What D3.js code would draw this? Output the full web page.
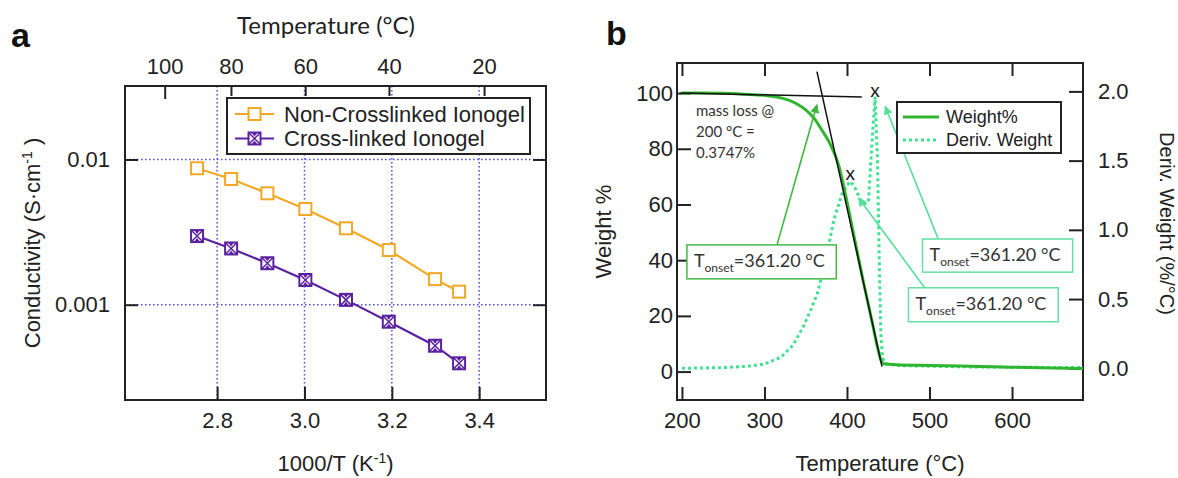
<!DOCTYPE html>
<html><head><meta charset="utf-8">
<script src="https://cdn.jsdelivr.net/npm/d3@7"></script>
<style>body{margin:0;background:#fff}svg{display:block}</style>
</head><body>
<svg id="c" width="1178" height="478"></svg>
<script>
// ---------- Panel a data ----------
const invT = [2.754, 2.832, 2.915, 3.002, 3.095, 3.193, 3.299, 3.354];      // 1000/T (K^-1)
const nonCrosslinked = [0.00870, 0.00734, 0.00585, 0.00456, 0.00336, 0.00238, 0.00150, 0.00123];
const crosslinked    = [0.00297, 0.00244, 0.00193, 0.00148, 0.00108, 0.000764, 0.000522, 0.000395];
const seriesNamesA = ["Non-Crosslinked Ionogel", "Cross-linked Ionogel"];
const xTicksA = [2.8, 3.0, 3.2, 3.4];
const yTicksA = [0.01, 0.001];
const topTempTicks = [100, 80, 60, 40, 20];   // °C

// ---------- Panel b data ----------
const tgaTemp = [200, 225, 250, 275, 300, 315, 330, 340, 350, 360, 370, 380, 390, 400, 410, 420, 430, 438, 442, 446, 460, 500, 550, 600, 650, 686];
const weightPct = [100, 100, 99.9, 99.6, 99.2, 98.6, 97.4, 96, 94, 91, 86.5, 81.5, 74, 61, 46.5, 32, 18.5, 7.5, 3.5, 2.7, 2.5, 2.2, 1.9, 1.6, 1.3, 1.1];
const dtgTemp = [200, 250, 280, 300, 320, 335, 347, 356, 364, 370, 376, 384, 394, 400, 404, 410, 416, 422, 426, 430, 434, 437, 439, 441, 443, 446, 460, 500, 550, 600, 650, 686];
const derivWeight = [0.0, 0.005, 0.015, 0.03, 0.08, 0.17, 0.30, 0.42, 0.54, 0.68, 0.83, 1.07, 1.26, 1.32, 1.35, 1.30, 1.22, 1.19, 1.20, 1.6, 1.96, 1.5, 0.8, 0.25, 0.08, 0.035, 0.02, 0.015, 0.01, 0.008, 0.006, 0.005];
const seriesNamesB = ["Weight%", "Deriv. Weight"];
const xTicksB = [200, 300, 400, 500, 600];
const yTicksB = [0, 20, 40, 60, 80, 100];
const y2TicksB = [0, 0.5, 1.0, 1.5, 2.0];
// annotations (data space)
const baselineT = [198, 418], baselineW = [100, 98.6];
const tangentT = [363.6, 442.4], tangentW = [107.7, 1.8];
const peakT = [404, 434], peakD = [1.40, 2.0];
const massLossText = ["mass loss @", "200 °C =", "0.3747%"];
const onsetValue = "=361.20 °C";
const boxT0 = [206, 491.5, 474.5], boxT1 = [387, 673.5, 656];
const boxW0 = [45.5, 47.6, 30.1], boxW1 = [33.3, 35.7, 17.9];
const arrowFromT = [315.2, 511, 494], arrowFromW = [45.5, 47.3, 30.2];
const arrowToT = [363.6, 446.4, 414], arrowToW = [95.8, 95.2, 62.3];

// ---------- drawing ----------
const svg = d3.select("#c");
const SANS = "'Liberation Sans', Arial, Helvetica, sans-serif";
const SOFT = "Lato, 'Open Sans', sans-serif";
const INK = "#222";

const defs = svg.append("defs");
function arrowMarker(id, color) {
  defs.append("marker").attr("id", id).attr("viewBox", "0 0 10 10").attr("refX", 9).attr("refY", 5)
    .attr("markerWidth", 9).attr("markerHeight", 9).attr("markerUnits", "userSpaceOnUse").attr("orient", "auto")
    .append("path").attr("d", "M0,0 L10,5 L0,10 z").attr("fill", color);
}
arrowMarker("ah1", "#3cb83c");
arrowMarker("ah2", "#55e09a");

function styleAxis(g, size) {
  g.select(".domain").remove();
  g.selectAll(".tick line").attr("stroke", INK).attr("stroke-width", 2);
  g.selectAll(".tick text").attr("font-family", SANS).attr("font-size", size || 22).attr("fill", INK);
}

// ===== Panel a =====
const A = {l: 125, r: 546, t: 86, b: 400};
const xA = d3.scaleLinear().domain([2.589, 3.553]).range([A.l, A.r]);
const yA = d3.scaleLog().domain([Math.pow(10, -3.656), Math.pow(10, -1.494)]).range([A.b, A.t]);
const gA = svg.append("g");

// grid
gA.selectAll(".vg").data(xTicksA).join("line")
  .attr("x1", d => xA(d)).attr("x2", d => xA(d)).attr("y1", A.t).attr("y2", A.b)
  .attr("stroke", "#4a4aff").attr("stroke-width", 1.5).attr("stroke-dasharray", "1.5,2.5");
gA.selectAll(".hg").data(yTicksA).join("line")
  .attr("x1", A.l).attr("x2", A.r).attr("y1", d => yA(d)).attr("y2", d => yA(d))
  .attr("stroke", "#4a4aff").attr("stroke-width", 1.5).attr("stroke-dasharray", "1.5,2.5");

// axes
gA.append("g").attr("transform", `translate(0,${A.b})`)
  .call(d3.axisBottom(xA).tickValues(xTicksA).tickFormat(d3.format(".1f")).tickSize(-13).tickPadding(12))
  .call(styleAxis);
gA.append("g").attr("transform", `translate(${A.l},0)`)
  .call(d3.axisLeft(yA).tickValues(yTicksA).tickFormat(d => d === 0.01 ? "0.01" : "0.001").tickSize(-13).tickPadding(15))
  .call(styleAxis);
gA.append("g").attr("transform", `translate(${A.r},0)`)
  .call(d3.axisRight(yA).tickValues(yTicksA).tickFormat("").tickSize(-13))
  .call(styleAxis);
const topScale = d3.scaleLinear().domain(xA.domain()).range(xA.range());
gA.append("g").attr("transform", `translate(0,${A.t})`)
  .call(d3.axisTop(topScale).tickValues(topTempTicks.map(t => 1000 / (t + 273.15)))
    .tickFormat((d, i) => topTempTicks[i]).tickSize(-10).tickPadding(12))
  .call(styleAxis)
  .call(g => g.selectAll(".tick line").attr("y2", (d, i) => i === 0 ? 13 : 10));

// frame
gA.append("rect").attr("x", A.l).attr("y", A.t).attr("width", A.r - A.l).attr("height", A.b - A.t)
  .attr("fill", "none").attr("stroke", INK).attr("stroke-width", 2);

// series
const colA = ["#f2a826", "#5a22a0"];
const lineA = d3.line().x(d => xA(d[0])).y(d => yA(d[1]));
[nonCrosslinked, crosslinked].forEach((vals, si) => {
  const pts = invT.map((x, i) => [x, vals[i]]);
  gA.append("path").attr("d", lineA(pts)).attr("fill", "none").attr("stroke", colA[si]).attr("stroke-width", 2.2);
  pts.forEach(p => drawMarkerA(gA, xA(p[0]), yA(p[1]), si));
});
function drawMarkerA(g, cx, cy, si) {
  const s = 6;
  g.append("rect").attr("x", cx - s).attr("y", cy - s).attr("width", 2 * s).attr("height", 2 * s)
    .attr("fill", "#fff").attr("stroke", colA[si]).attr("stroke-width", 2);
  if (si === 1) {
    g.append("path").attr("d", `M${cx - s},${cy - s}L${cx + s},${cy + s}M${cx + s},${cy - s}L${cx - s},${cy + s}`)
      .attr("stroke", colA[si]).attr("stroke-width", 1.5);
    g.append("path").attr("d", `M${cx - 3},${cy - s}L${cx + 3},${cy - s}L${cx},${cy - 2}z M${cx - 3},${cy + s}L${cx + 3},${cy + s}L${cx},${cy + 2}z`)
      .attr("fill", colA[si]);
  }
}

// legend a
const LA = {x: 227, y: 98, w: 303, h: 56};
gA.append("rect").attr("x", LA.x).attr("y", LA.y).attr("width", LA.w).attr("height", LA.h)
  .attr("fill", "#fff").attr("stroke", INK).attr("stroke-width", 2);
seriesNamesA.forEach((name, i) => {
  const yy = LA.y + 16 + i * 24.5;
  gA.append("line").attr("x1", LA.x + 8).attr("x2", LA.x + 47).attr("y1", yy).attr("y2", yy)
    .attr("stroke", colA[i]).attr("stroke-width", 2.2);
  drawMarkerA(gA, LA.x + 27.5, yy, i);
  gA.append("text").attr("x", LA.x + 57).attr("y", yy).attr("dy", "0.35em")
    .attr("font-family", SANS).attr("font-size", 22).attr("fill", INK).text(name);
});

// titles a
gA.append("text").attr("x", 326).attr("y", 34).attr("text-anchor", "middle")
  .attr("font-family", SOFT).attr("font-size", 24).attr("fill", INK).text("Temperature (°C)");
gA.append("text").attr("x", (A.l + A.r) / 2).attr("y", 471).attr("text-anchor", "middle")
  .attr("font-family", SANS).attr("font-size", 22).attr("fill", INK)
  .call(t => { t.append("tspan").text("1000/T (K"); t.append("tspan").attr("dy", -8).attr("font-size", 14).text("-1");
               t.append("tspan").attr("dy", 8).text(")"); });
gA.append("text").attr("transform", `translate(40,${(A.t + A.b) / 2}) rotate(-90)`).attr("text-anchor", "middle")
  .attr("font-family", SANS).attr("font-size", 22).attr("fill", INK)
  .call(t => { t.append("tspan").text("Conductivity (S·cm"); t.append("tspan").attr("dy", -8).attr("font-size", 14).text("-1");
               t.append("tspan").attr("dy", 8).text(" )"); });
svg.append("text").attr("x", 11).attr("y", 47).attr("font-family", SANS).attr("font-weight", "bold")
  .attr("font-size", 34).attr("fill", "#111").text("a");

// ===== Panel b =====
const B = {l: 677, r: 1083, t: 63, b: 400};
const xB = d3.scaleLinear().domain([194, 686]).range([B.l, B.r]);
const yB = d3.scaleLinear().domain([-10.2, 110.8]).range([B.b, B.t]);
const y2B = d3.scaleLinear().domain([-0.229, 2.205]).range([B.b, B.t]);
const gB = svg.append("g");

gB.append("g").attr("transform", `translate(0,${B.b})`)
  .call(d3.axisBottom(xB).tickValues(xTicksB).tickSize(-13).tickPadding(12)).call(styleAxis);
gB.append("g").attr("transform", `translate(0,${B.t})`)
  .call(d3.axisTop(xB).tickValues(xTicksB).tickFormat("").tickSize(-13)).call(styleAxis);
gB.append("g").attr("transform", `translate(${B.l},0)`)
  .call(d3.axisLeft(yB).tickValues(yTicksB).tickSize(-14).tickPadding(4)).call(styleAxis);
gB.append("g").attr("transform", `translate(${B.r},0)`)
  .call(d3.axisRight(y2B).tickValues(y2TicksB).tickFormat(d3.format(".1f")).tickSize(-14).tickPadding(15)).call(styleAxis);
gB.append("rect").attr("x", B.l).attr("y", B.t).attr("width", B.r - B.l).attr("height", B.b - B.t)
  .attr("fill", "none").attr("stroke", INK).attr("stroke-width", 2);

const colW = "#2fb52f", colD = "#3fe290";
// deriv dotted
gB.append("path").attr("d", d3.line().x((d, i) => xB(dtgTemp[i])).y(d => y2B(d))(derivWeight))
  .attr("fill", "none").attr("stroke", colD).attr("stroke-width", 3).attr("stroke-dasharray", "3,3");
// weight solid
gB.append("path").attr("d", d3.line().curve(d3.curveMonotoneX).x((d, i) => xB(tgaTemp[i])).y(d => yB(d))(weightPct))
  .attr("fill", "none").attr("stroke", colW).attr("stroke-width", 3);
// tangent lines
gB.append("line").attr("x1", xB(baselineT[0])).attr("y1", yB(baselineW[0])).attr("x2", xB(baselineT[1])).attr("y2", yB(baselineW[1]))
  .attr("stroke", "#111").attr("stroke-width", 1.5);
gB.append("line").attr("x1", xB(tangentT[0])).attr("y1", yB(tangentW[0])).attr("x2", xB(tangentT[1])).attr("y2", yB(tangentW[1]))
  .attr("stroke", "#111").attr("stroke-width", 1.5);
// x markers at peaks
peakT.forEach((t, i) => gB.append("text").attr("x", xB(t)).attr("y", y2B(peakD[i])).attr("dy", "0.3em")
  .attr("text-anchor", "middle").attr("font-family", SOFT).attr("font-size", 19).attr("fill", INK).text("x"));

// mass loss text
massLossText.forEach((s, i) => gB.append("text").attr("x", 696).attr("y", 111 + i * 21).attr("dy", "0.35em")
  .attr("font-family", SOFT).attr("font-size", 15).attr("fill", "#333").text(s));

// arrows and boxes
const boxCol = ["#44b844", "#66e0a4", "#66e0a4"];
boxT0.forEach((t0, i) => {
  gB.append("line").attr("x1", xB(arrowFromT[i])).attr("y1", yB(arrowFromW[i]))
    .attr("x2", xB(arrowToT[i])).attr("y2", yB(arrowToW[i]))
    .attr("stroke", i === 0 ? "#3cb83c" : "#55e09a").attr("stroke-width", 1.6)
    .attr("marker-end", i === 0 ? "url(#ah1)" : "url(#ah2)");
  const x0 = xB(t0), x1 = xB(boxT1[i]), yt = yB(boxW0[i]), yb = yB(boxW1[i]);
  gB.append("rect").attr("x", x0).attr("y", yt).attr("width", x1 - x0).attr("height", yb - yt)
    .attr("fill", "#fff").attr("stroke", boxCol[i]).attr("stroke-width", 1.5);
  gB.append("text").attr("x", x0 + 7).attr("y", (yt + yb) / 2).attr("dy", "0.3em")
    .attr("font-family", SOFT).attr("font-size", 18).attr("fill", "#333")
    .call(tx => { tx.append("tspan").text("T"); tx.append("tspan").attr("dy", 5).attr("font-size", 12).text("onset");
                  tx.append("tspan").attr("dy", -5).text(onsetValue); });
});

// legend b
const LB = {x: 897, y: 102, w: 164, h: 51};
gB.append("rect").attr("x", LB.x).attr("y", LB.y).attr("width", LB.w).attr("height", LB.h)
  .attr("fill", "#fff").attr("stroke", INK).attr("stroke-width", 2);
seriesNamesB.forEach((name, i) => {
  const yy = LB.y + 15 + i * 23;
  gB.append("line").attr("x1", LB.x + 6).attr("x2", LB.x + 42).attr("y1", yy).attr("y2", yy)
    .attr("stroke", i === 0 ? colW : colD).attr("stroke-width", 3).attr("stroke-dasharray", i === 0 ? null : "3,3");
  gB.append("text").attr("x", LB.x + 49).attr("y", yy).attr("dy", "0.35em")
    .attr("font-family", SANS).attr("font-size", 18).attr("fill", INK).text(name);
});

// titles b
gB.append("text").attr("x", (B.l + B.r) / 2).attr("y", 471).attr("text-anchor", "middle")
  .attr("font-family", SANS).attr("font-size", 22).attr("fill", INK).text("Temperature (°C)");
gB.append("text").attr("transform", `translate(611,${(B.t + B.b) / 2}) rotate(-90)`).attr("text-anchor", "middle")
  .attr("font-family", SANS).attr("font-size", 22).attr("fill", INK).text("Weight %");
gB.append("text").attr("transform", `translate(1160,${(B.t + B.b) / 2 - 8}) rotate(90)`).attr("text-anchor", "middle")
  .attr("font-family", SANS).attr("font-size", 20).attr("fill", INK).text("Deriv. Weight (%/°C)");
svg.append("text").attr("x", 606).attr("y", 45).attr("font-family", SANS).attr("font-weight", "bold")
  .attr("font-size", 34).attr("fill", "#111").text("b");
</script>
</body></html>
